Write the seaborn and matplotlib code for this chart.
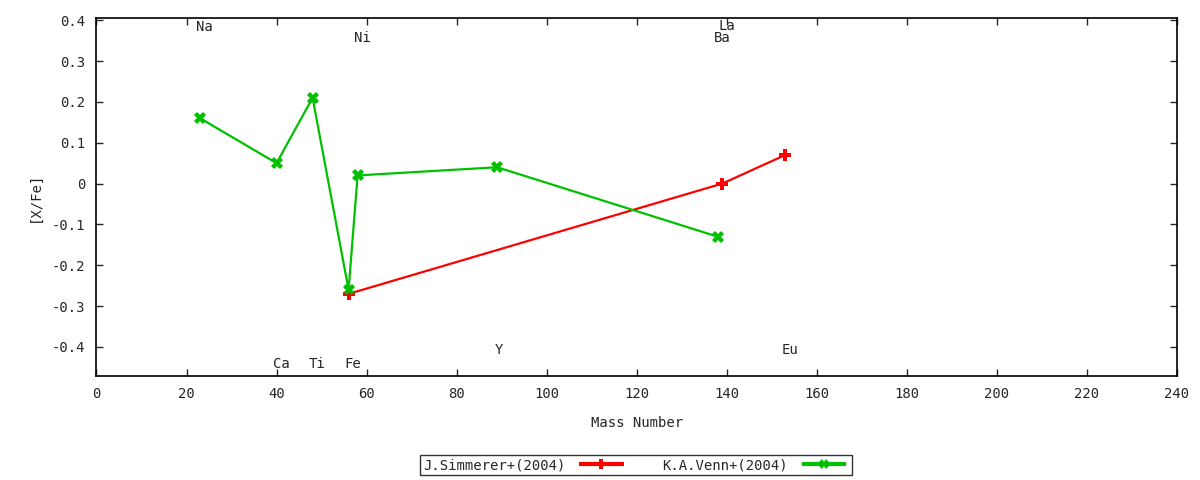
import pandas as pd
import numpy as np
import matplotlib
matplotlib.use("Agg")
import matplotlib.pyplot as plt
import seaborn as sns
from matplotlib.legend_handler import HandlerErrorbar

# J.Simmerer+(2004)
sim_mass = [56, 139, 153]
sim_xfe = [-0.27, 0.0, 0.07]

# K.A.Venn+(2004)
venn_mass = [23, 40, 48, 56, 58, 89, 138]
venn_xfe = [0.16, 0.05, 0.21, -0.26, 0.02, 0.04, -0.13]

# element labels
elem_names = ["Na", "Ni", "La", "Ba", "Ca", "Ti", "Fe", "Y", "Eu"]
elem_x = [24, 59, 140, 139, 41, 49, 57, 89.5, 154]
elem_y = [0.383, 0.356, 0.385, 0.356, -0.442, -0.442, -0.442, -0.407, -0.407]

sim_label = "J.Simmerer+(2004)"
venn_label = "K.A.Venn+(2004)"

df = pd.concat([
    pd.DataFrame({"mass": sim_mass, "xfe": sim_xfe, "src": sim_label}),
    pd.DataFrame({"mass": venn_mass, "xfe": venn_xfe, "src": venn_label}),
], ignore_index=True)

sns.set_style("ticks")
plt.rcParams["font.family"] = ["DejaVu Sans Mono"]
plt.rcParams["font.size"] = 10

colors = {sim_label: "#ff0000", venn_label: "#00c000"}
marks = {sim_label: "P", venn_label: "X"}

fig = plt.figure(figsize=(12, 4.8), dpi=100)
ax = fig.add_axes([0.0804, 0.2167, 0.9004, 0.746])

sns.lineplot(data=df, x="mass", y="xfe", hue="src", style="src", sort=False,
             palette=colors, markers=marks, dashes=False, markersize=8,
             markeredgewidth=0, linewidth=1.6, legend=False, ax=ax)

# zero-size error bars, used for the gnuplot-like legend samples
handles = []
for src in [sim_label, venn_label]:
    d = df[df["src"] == src]
    h = ax.errorbar(d["mass"], d["xfe"], xerr=np.zeros(len(d)), fmt=marks[src],
                    color=colors[src], ms=7, mew=0, elinewidth=3, capsize=5,
                    capthick=2.5, linestyle="none", label=src)
    handles.append(h)

for name, x, y in zip(elem_names, elem_x, elem_y):
    ax.text(x, y, name, ha="center", va="center", fontsize=10)

ax.set_xlim(0, 240)
ax.set_ylim(-0.471, 0.4056)
ax.set_xticks(np.arange(0, 241, 20))
ax.set_yticks(np.arange(-0.4, 0.41, 0.1))
ax.set_yticklabels(["-0.4", "-0.3", "-0.2", "-0.1", "0", "0.1", "0.2", "0.3", "0.4"])
ax.tick_params(direction="in", top=True, right=True, length=5, width=1, pad=8)
for s in ax.spines.values():
    s.set_linewidth(1.2)
    s.set_color("black")

ax.set_xlabel("Mass Number", labelpad=11)
ax.set_ylabel("[X/Fe]", labelpad=7)

leg = fig.legend(handles=handles, loc="center", bbox_to_anchor=(0.53, 0.031),
                 ncol=2, markerfirst=False, frameon=True, fancybox=False,
                 edgecolor="black", handlelength=3.6, columnspacing=2.6,
                 borderpad=0.2, handletextpad=0.8,
                 handler_map={type(handles[0]): HandlerErrorbar(xerr_size=1.6)})
leg.get_frame().set_linewidth(1)

fig.savefig("out.png", dpi=100)
